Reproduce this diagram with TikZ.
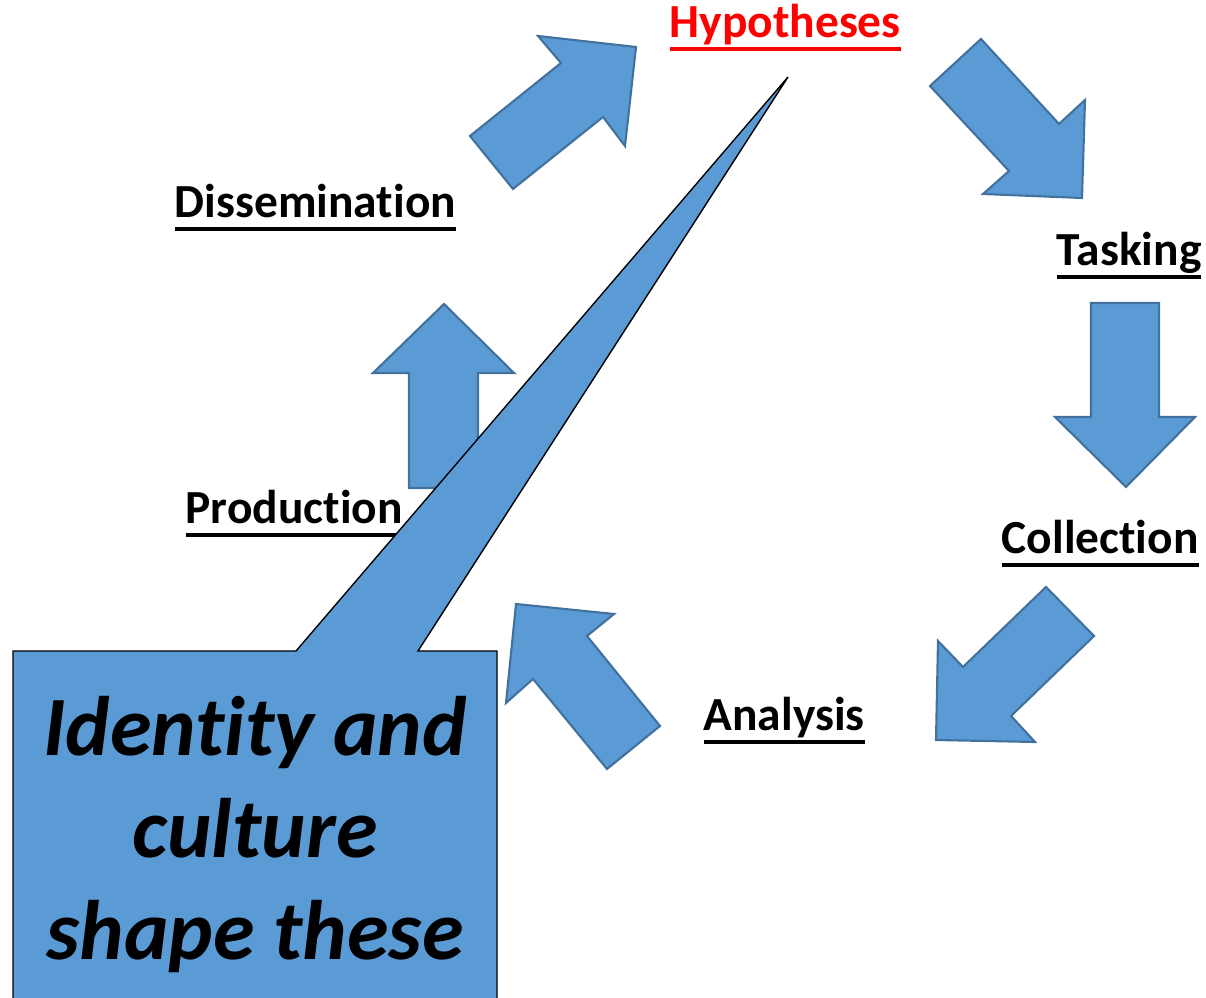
\documentclass[tikz,border=0pt]{standalone}
\usepackage{fontspec}
\setmainfont[Ligatures=NoCommon]{Carlito}
\usepackage{tikz}

\definecolor{arrowfill}{HTML}{5B9BD5}
\definecolor{arrowline}{HTML}{41719C}

% underlined stage name
\newcommand{\ulbl}[1]{\setbox0=\hbox{#1}\rlap{\rule[-3.6pt]{\wd0}{0.9pt}}\box0}

\tikzset{
  blockarrow/.style={fill=arrowfill, draw=arrowline, line width=0.6pt, line join=miter},
  stage/.style={inner sep=0pt, anchor=base west, font=\fontsize{13.5}{16}\selectfont\bfseries},
  calloutshape/.style={fill=arrowfill, draw=black, line width=0.4pt},
  callouttext/.style={align=center, inner sep=0pt, font=\fontsize{24}{29}\selectfont\bfseries\itshape}
}

\begin{document}
\begin{tikzpicture}[x=0.01cm, y=-0.01cm]
\useasboundingbox (0,0) rectangle (1206,998);
\clip (0,0) rectangle (1206,998);

% arrows round the cycle
\draw[blockarrow] (470,136) -- (561,63) -- (538,36) -- (636,47) -- (625,146) -- (603,117) -- (513,189) -- cycle;
\draw[blockarrow] (930,86) -- (981,39) -- (1059,124) -- (1085,100) -- (1082,198) -- (983,194) -- (1009,171) -- cycle;
\draw[blockarrow] (1091,303) -- (1159,303) -- (1159,417) -- (1195,417) -- (1126,487) -- (1055,417) -- (1091,417) -- cycle;
\draw[blockarrow] (1046,587) -- (1094,636) -- (1011,716) -- (1035,742) -- (936,740) -- (938,641) -- (963,667) -- cycle;
\draw[blockarrow] (660,726) -- (607,769) -- (533,679) -- (506,703) -- (516,604) -- (614,614) -- (587,636) -- cycle;
\draw[blockarrow] (444,304) -- (514,373) -- (478,373) -- (478,488) -- (409,488) -- (409,373) -- (373,373) -- cycle;

% stage names
\node[stage, text=red] (hyp) at (669,38) {\ulbl{Hypotheses}};
\node[stage] (diss) at (174,218) {\ulbl{Dissemination}};
\node[stage] (task) at (1056,266) {\ulbl{Tasking}};
\node[stage] (coll) at (1001,554) {\ulbl{Collection}};
\node[stage] (anal) at (703,731) {\ulbl{Analysis}};
\node[stage] (prod) at (185,524) {\ulbl{Production}};

% callout
\draw[calloutshape] (13,651) -- (296,651) -- (788,77) -- (418,651) -- (497,651) -- (497,1010) -- (13,1010) -- cycle;
\node[callouttext] (culture) at (255,835) {Identity and\\culture\\shape these};
\end{tikzpicture}
\end{document}
